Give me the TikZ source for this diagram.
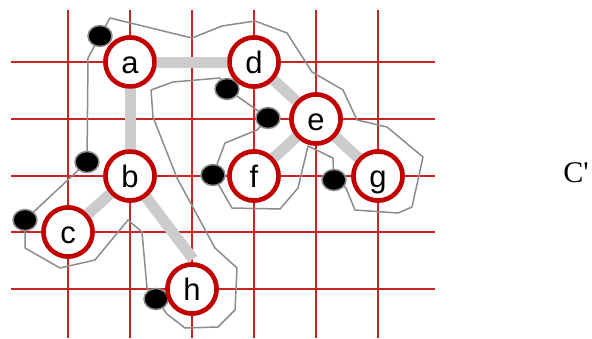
\documentclass[tikz,border=0pt]{standalone}
\usepackage{fontspec}
\usetikzlibrary{shapes.geometric}
\newfontfamily\labelsans{Liberation Sans}
\newfontfamily\labelserif{Liberation Serif}
\definecolor{gridred}{RGB}{205,35,35}
\definecolor{ringred}{RGB}{195,0,0}
\definecolor{linkgray}{RGB}{204,204,204}
\definecolor{contourgray}{RGB}{140,140,140}
\begin{document}
\begin{tikzpicture}[x=1pt,y=-1pt,
  gridline/.style={draw=gridred, line width=1.2pt},
  link/.style={draw=linkgray, line width=11pt},
  contour/.style={draw=contourgray, line width=1.5pt, line join=round},
  vertex/.style={circle, draw=ringred, line width=4.5pt, fill=white,
    minimum size=49pt, inner sep=0pt,
    font=\labelsans\fontsize{31}{31}\selectfont, text height=22pt, text depth=0pt},
  spot/.style={ellipse, fill=black, draw=black!45, line width=1.5pt,
    minimum width=24pt, minimum height=21pt, inner sep=0pt}]
\useasboundingbox (0,0) rectangle (592,338);
\fill[white] (0,0) rectangle (592,338);

% red grid
\foreach \gx in {68,130,192,254,316,378}
  \draw[gridline] (\gx,10) -- (\gx,338);
\foreach \gy in {62,119,176,232,289}
  \draw[gridline] (11,\gy) -- (435,\gy);

% tree vertices (placed first so the links can refer to them)
\path (130,62) node[vertex] (a) {}
      (254,62) node[vertex] (d) {}
      (316,119) node[vertex] (e) {}
      (130,176) node[vertex] (b) {}
      (254,176) node[vertex] (f) {}
      (378,176) node[vertex] (g) {}
      (68,232) node[vertex] (c) {}
      (192,289) node[vertex] (h) {};
\coordinate (htop) at (193,259);

% tree links
\draw[link] (a.center) -- (d.center);
\draw[link] (a.center) -- (b.center);
\draw[link] (d.center) -- (e.center);
\draw[link] (e.center) -- (f.center);
\draw[link] (e.center) -- (g.center);
\draw[link] (b.center) -- (c.center);
\draw[link] (b.center) -- (htop);

% spots on the contour
\path (100,36) coordinate (sa)
      (87,162) coordinate (sb)
      (25,220) coordinate (sc)
      (156,299) coordinate (sh)
      (213,175) coordinate (sf)
      (227,89) coordinate (sd)
      (268,118) coordinate (se)
      (334,180) coordinate (sg);

% contour around the tree
\draw[contour] (sa) -- (110,18) -- (192,38) -- (222,26) -- (255,21) -- (287,33)
  -- (312,72) -- (343,90) -- (357,120) -- (387,127) -- (423,157) -- (412,207)
  -- (398,213) -- (355,210) -- (346,188) -- (sg) -- (333,158) -- (308,146)
  -- (298,188) -- (280,209) -- (232,208) -- (sf) -- (225,143) -- (257,130)
  -- (se) -- (sd) -- (220,78) -- (173,82) -- (151,90) -- (153,117) -- (177,178)
  -- (215,248) -- (237,268) -- (235,310) -- (218,327) -- (185,328) -- (167,314)
  -- (sh) -- (147,288) -- (142,232) -- (128,220) -- (95,260) -- (60,268)
  -- (25,248) -- (sc) -- (sb) -- (88,58) -- cycle;

\foreach \s in {sa,sb,sc,sh,sf,sd,se,sg}
  \node[spot] at (\s) {};

% vertices redrawn on top with their labels
\path (a) node[vertex] {a}
      (d) node[vertex] {d}
      (e) node[vertex] {e}
      (b) node[vertex] {b}
      (f) node[vertex] {f}
      (g) node[vertex] {g}
      (c) node[vertex] {c}
      (h) node[vertex] {h};

\node[font=\labelserif\fontsize{30}{30}\selectfont] (label) at (576,173) {C'};
\end{tikzpicture}
\end{document}
